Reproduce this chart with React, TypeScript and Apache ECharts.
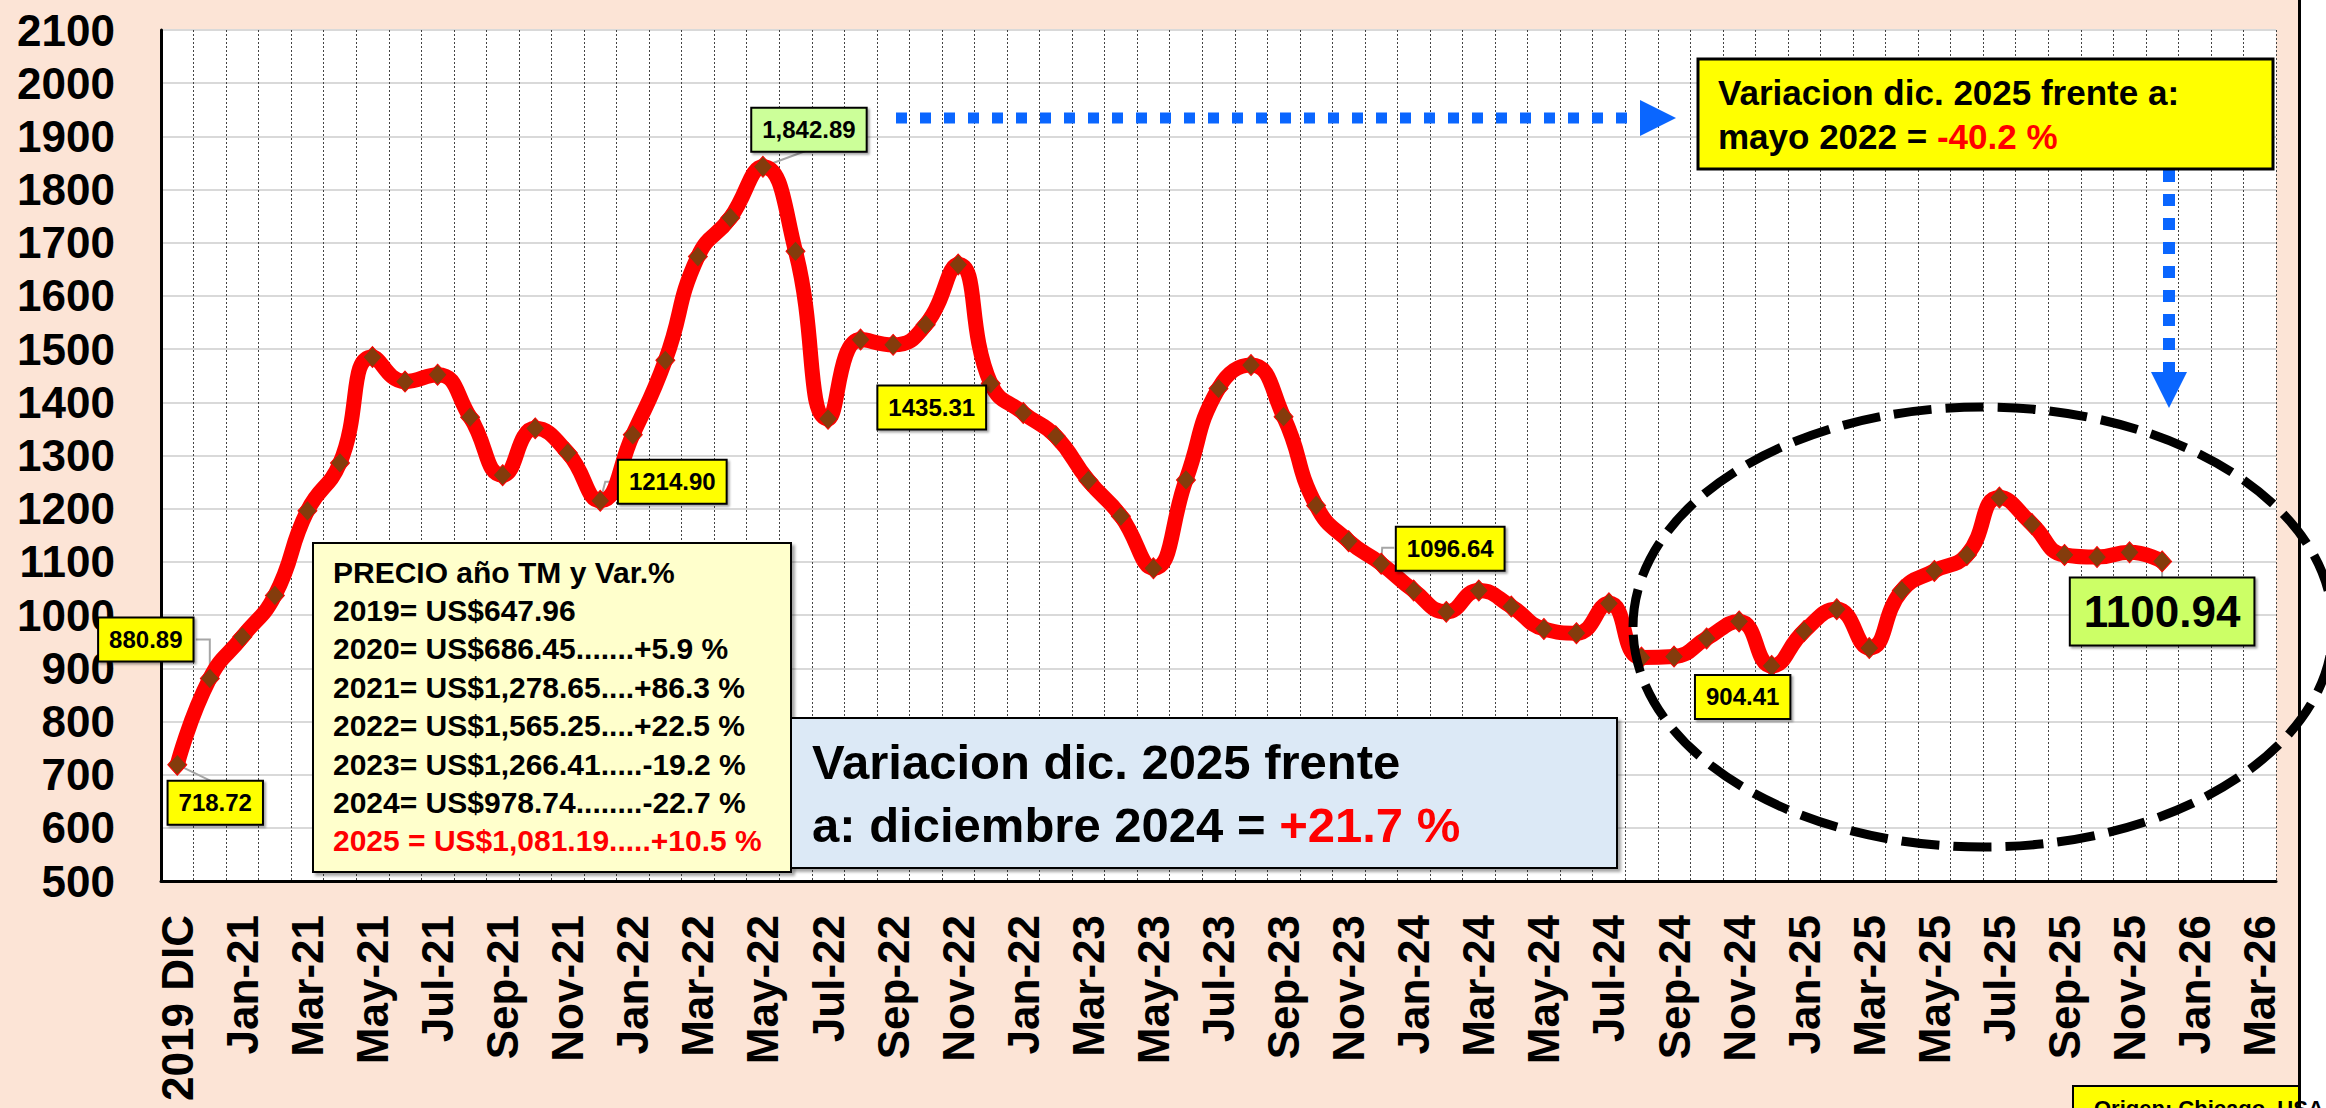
import React, { useEffect, useRef } from 'react';
import * as echarts from 'echarts';

const FONT = 'Arial, "Liberation Sans", Helvetica, sans-serif';

// Month categories (first point = Dec 2019 average, second = Dec 2020)
const categories = [
  '2019 DIC', 'Dec-20',
  'Jan-21', 'Feb-21', 'Mar-21', 'Apr-21', 'May-21', 'Jun-21', 'Jul-21', 'Aug-21', 'Sep-21', 'Oct-21', 'Nov-21', 'Dec-21',
  'Jan-22', 'Feb-22', 'Mar-22', 'Apr-22', 'May-22', 'Jun-22', 'Jul-22', 'Aug-22', 'Sep-22', 'Oct-22', 'Nov-22', 'Dec-22',
  'Jan-23', 'Feb-23', 'Mar-23', 'Apr-23', 'May-23', 'Jun-23', 'Jul-23', 'Aug-23', 'Sep-23', 'Oct-23', 'Nov-23', 'Dec-23',
  'Jan-24', 'Feb-24', 'Mar-24', 'Apr-24', 'May-24', 'Jun-24', 'Jul-24', 'Aug-24', 'Sep-24', 'Oct-24', 'Nov-24', 'Dec-24',
  'Jan-25', 'Feb-25', 'Mar-25', 'Apr-25', 'May-25', 'Jun-25', 'Jul-25', 'Aug-25', 'Sep-25', 'Oct-25', 'Nov-25', 'Dec-25',
  'Jan-26', 'Feb-26', 'Mar-26',
];

// Tick labels as printed on the chart (every second category)
const axisLabels = [
  '2019 DIC', 'Jan-21', 'Mar-21', 'May-21', 'Jul-21', 'Sep-21', 'Nov-21', 'Jan-22', 'Mar-22', 'May-22',
  'Jul-22', 'Sep-22', 'Nov-22', 'Jan-22', 'Mar-23', 'May-23', 'Jul-23', 'Sep-23', 'Nov-23', 'Jan-24',
  'Mar-24', 'May-24', 'Jul-24', 'Sep-24', 'Nov-24', 'Jan-25', 'Mar-25', 'May-25', 'Jul-25', 'Sep-25',
  'Nov-25', 'Jan-26', 'Mar-26',
];

const prices = [
  718.72, 880.89,
  959, 1037, 1196, 1286, 1485, 1439, 1452, 1372, 1263, 1351, 1305, 1214.90,
  1339, 1479, 1674, 1747, 1842.89, 1684, 1369, 1518, 1508, 1546, 1659, 1435.31,
  1380, 1336, 1253, 1186, 1088, 1254, 1426, 1470, 1373, 1206, 1139, 1096.64,
  1046, 1006, 1046, 1016, 974, 966, 1022, 920, 922, 956, 988, 904.41,
  970, 1011, 938, 1046, 1083, 1113, 1221, 1171, 1113, 1109, 1118, 1100.94,
];

const yTicks = { min: 500, max: 2100, step: 100 };

const summaryTitle = 'PRECIO año TM y Var.%';
const summaryLines = [
  '2019= US$647.96',
  '2020= US$686.45.......+5.9 %',
  '2021= US$1,278.65....+86.3 %',
  '2022= US$1,565.25....+22.5 %',
  '2023= US$1,266.41.....-19.2 %',
  '2024= US$978.74........-22.7 %',
];
const summaryLast = '2025 = US$1,081.19.....+10.5 %';

const varDic = { l1: 'Variacion dic. 2025 frente', l2: 'a: diciembre 2024 = ', pct: '+21.7 %' };
const varMay = { l1: 'Variacion dic. 2025 frente a:', l2: 'mayo 2022 = ', pct: '-40.2 %' };
const sourceText = 'Origen: Chicago, USA';

// Callout layout: offset of the label box centre from its point, and leader line points
type Callout = { idx: number; off: [number, number]; bg: string; size: number; comma?: boolean; leader?: [number, number][] };
const callouts: Callout[] = [
  { idx: 0, off: [38, 38], bg: '#FFFF00', size: 24, leader: [[0, 0], [37, 18]] },
  { idx: 1, off: [-64, -39], bg: '#FFFF00', size: 24, leader: [[0, 0], [0, -39], [-14, -39]] },
  { idx: 13, off: [72, -19], bg: '#FFFF00', size: 24, leader: [[0, 0], [5, -19], [18, -19]] },
  { idx: 18, off: [46, -37], bg: '#CCFF99', size: 24, comma: true, leader: [[0, 0], [46, -17]] },
  { idx: 25, off: [-59, 24], bg: '#FFFF00', size: 24 },
  { idx: 37, off: [69, -15], bg: '#FFFF00', size: 24, leader: [[0, 0], [1, -16], [13, -16]] },
  { idx: 49, off: [-29, 31], bg: '#FFFF00', size: 24 },
  { idx: 61, off: [0, 50], bg: '#CCFF66', size: 44, leader: [[0, 0], [0, 18]] },
];

function fmt(v: number, comma?: boolean) {
  if (!comma) return v.toFixed(2);
  return v.toLocaleString('en-US', { minimumFractionDigits: 2, maximumFractionDigits: 2 });
}

export default function App() {
  const ref = useRef<HTMLDivElement>(null);

  useEffect(() => {
    if (!ref.current) return;
    const chart = echarts.init(ref.current, undefined, { renderer: 'svg' });

    const data = prices.map((v, i) => {
      const c = callouts.find((k) => k.idx === i);
      if (!c) return v;
      const big = c.size > 30;
      return {
        value: v,
        label: {
          show: true,
          position: 'inside',
          offset: c.off,
          formatter: () => fmt(v, c.comma),
          color: '#000',
          fontFamily: FONT,
          fontWeight: 'bold',
          fontSize: c.size,
          lineHeight: big ? 48 : 26,
          backgroundColor: c.bg,
          borderColor: '#000',
          borderWidth: 2,
          padding: big ? [9, 13] : [8, 10],
          shadowColor: 'rgba(0,0,0,0.35)',
          shadowOffsetX: 2,
          shadowOffsetY: 2,
          shadowBlur: 2,
        },
      };
    });

    const option: any = {
      animation: false,
      backgroundColor: '#FCE4D6',
      grid: { left: 161, top: 30, width: 2115, height: 851, show: true, backgroundColor: '#FFFFFF', borderWidth: 0 },
      xAxis: {
        type: 'category',
        data: categories,
        boundaryGap: true,
        axisLine: { onZero: false, lineStyle: { color: '#000', width: 3 } },
        axisTick: { show: false },
        axisLabel: {
          interval: 1,
          rotate: 90,
          margin: 34,
          color: '#000',
          fontFamily: FONT,
          fontWeight: 'bold',
          fontSize: 44,
          formatter: (_v: string, i: number) => (i % 2 === 0 ? axisLabels[i / 2] : ''),
        },
        splitLine: { show: true, interval: 0, lineStyle: { color: '#444', width: 1, type: [2, 2] } },
      },
      yAxis: {
        type: 'value',
        min: yTicks.min,
        max: yTicks.max,
        interval: yTicks.step,
        axisLine: { show: true, lineStyle: { color: '#000', width: 3 } },
        axisTick: { show: false },
        axisLabel: {
          margin: 46,
          color: '#000',
          fontFamily: FONT,
          fontWeight: 'bold',
          fontSize: 44,
          formatter: (v: number) => String(v),
        },
        splitLine: { show: true, lineStyle: { color: '#D9D9D9', width: 2 } },
      },
      series: [
        {
          type: 'line',
          data,
          smooth: 0.5,
          symbol: 'diamond',
          symbolSize: [19, 21],
          showAllSymbol: true,
          lineStyle: { color: '#FF0000', width: 15 },
          itemStyle: { color: '#843C0C', borderColor: '#FF0000', borderWidth: 1 },
          emphasis: { disabled: true },
          z: 3,
        },
      ],
    };
    chart.setOption(option);

    const leaders = callouts
      .filter((c) => c.leader)
      .map((c) => {
        const p = chart.convertToPixel({ xAxisIndex: 0, yAxisIndex: 0 }, [c.idx, prices[c.idx]]) as number[];
        return {
          type: 'polyline',
          id: 'leader' + c.idx,
          z: 2,
          shape: { points: (c.leader as [number, number][]).map(([dx, dy]) => [p[0] + dx, p[1] + dy]) },
          style: { stroke: '#A6A6A6', lineWidth: 2, fill: 'none' },
        };
      });

    const blue = '#0A66FF';
    const txt = (id: string, x: number, y: number, text: string, size: number, color = '#000', rich?: any) => ({
      type: 'text',
      id,
      x,
      y,
      z: 8,
      style: {
        text,
        fill: color,
        fontFamily: FONT,
        fontWeight: 'bold',
        fontSize: size,
        align: 'left',
        verticalAlign: 'middle',
        rich,
      },
    });

    const summary = [summaryTitle, ...summaryLines].map((t, i) =>
      txt('sum' + i, 333, 572 + i * 38.4, t, 30)
    );
    summary.push(txt('sumLast', 333, 572 + 7 * 38.4, summaryLast, 30, '#FF0000'));

    const graphics: any[] = [
      // right-hand frame
      { type: 'rect', id: 'whiteStrip', z: 1, shape: { x: 2301, y: 0, width: 30, height: 1108 }, style: { fill: '#FFFFFF' } },
      { type: 'line', id: 'frameLine', z: 1, shape: { x1: 2299.5, y1: 0, x2: 2299.5, y2: 1108 }, style: { stroke: '#000', lineWidth: 3 } },
      ...leaders,
      // summary box
      {
        type: 'rect', id: 'sumBox', z: 7,
        shape: { x: 313, y: 543, width: 478, height: 329 },
        style: { fill: '#FFFFCC', stroke: '#000', lineWidth: 2, shadowColor: 'rgba(0,0,0,0.35)', shadowOffsetX: 3, shadowOffsetY: 3, shadowBlur: 3 },
      },
      ...summary,
      // blue variation box
      {
        type: 'rect', id: 'blueBox', z: 7,
        shape: { x: 791, y: 718, width: 826, height: 150 },
        style: { fill: '#DCE9F6', stroke: '#000', lineWidth: 2, shadowColor: 'rgba(0,0,0,0.35)', shadowOffsetX: 3, shadowOffsetY: 3, shadowBlur: 3 },
      },
      txt('blue1', 812, 762, varDic.l1, 49),
      txt('blue2', 812, 825, varDic.l2 + '{r|' + varDic.pct + '}', 49, '#000', {
        r: { fill: '#FF0000', fontFamily: FONT, fontWeight: 'bold', fontSize: 49 },
      }),
      // blue dotted arrows
      {
        type: 'line', id: 'arrH', z: 5,
        shape: { x1: 896, y1: 118, x2: 1634, y2: 118 },
        style: { stroke: blue, lineWidth: 11, lineDash: [11, 13] },
      },
      { type: 'polygon', id: 'arrHHead', z: 5, shape: { points: [[1640, 100], [1676, 118], [1640, 136]] }, style: { fill: blue } },
      {
        type: 'line', id: 'arrV', z: 5,
        shape: { x1: 2169, y1: 170, x2: 2169, y2: 372 },
        style: { stroke: blue, lineWidth: 12, lineDash: [12, 12] },
      },
      { type: 'polygon', id: 'arrVHead', z: 5, shape: { points: [[2151, 372], [2187, 372], [2169, 408]] }, style: { fill: blue } },
      // yellow variation box
      {
        type: 'rect', id: 'yelBox', z: 7,
        shape: { x: 1698, y: 59, width: 575, height: 110 },
        style: { fill: '#FFFF00', stroke: '#000', lineWidth: 3 },
      },
      txt('yel1', 1718, 92, varMay.l1, 35),
      txt('yel2', 1718, 136, varMay.l2 + '{r|' + varMay.pct + '}', 35, '#000', {
        r: { fill: '#FF0000', fontFamily: FONT, fontWeight: 'bold', fontSize: 35 },
      }),
      // dashed ellipse
      {
        type: 'ellipse', id: 'ell', z: 9,
        shape: { cx: 1983, cy: 627, rx: 350, ry: 220 },
        style: { fill: 'none', stroke: '#000', lineWidth: 9, lineDash: [38, 14] },
      },
      // source box (cut at the bottom edge, as in the original)
      {
        type: 'rect', id: 'srcBox', z: 7,
        shape: { x: 2073, y: 1086, width: 226, height: 40 },
        style: { fill: '#FFFF00', stroke: '#000', lineWidth: 2 },
      },
      {
        type: 'text', id: 'srcText', z: 8, x: 2094, y: 1097,
        style: { text: sourceText, fill: '#000', fontFamily: FONT, fontWeight: 'bold', fontSize: 22, align: 'left', verticalAlign: 'top' },
      },
    ];

    chart.setOption({ graphic: { elements: graphics } });

    return () => chart.dispose();
  }, []);

  return (
    <div
      ref={ref}
      style={{ position: 'fixed', left: 0, top: 0, width: 2326, height: 1108 }}
    />
  );
}
